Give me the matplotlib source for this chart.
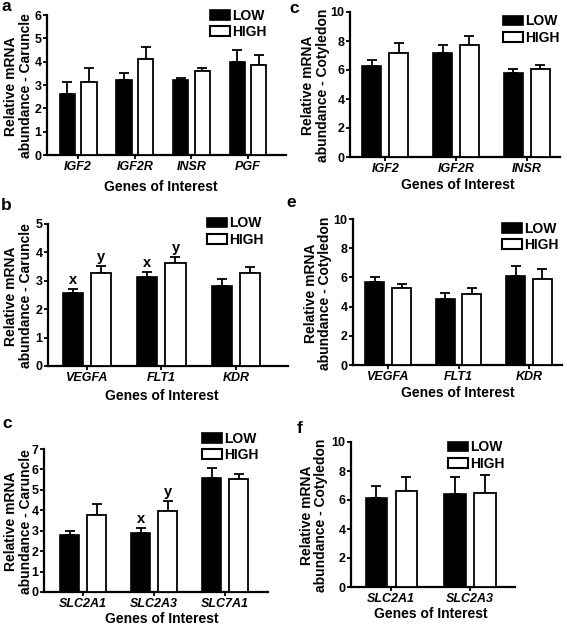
import matplotlib
matplotlib.use("Agg")
import matplotlib.pyplot as plt
import numpy as np
from matplotlib.patches import Patch

plt.rcParams['font.family'] = ['Liberation Sans', 'DejaVu Sans']
plt.rcParams['font.weight'] = 'bold'

# ---- data ----
a_genes = ["IGF2", "IGF2R", "INSR", "PGF"]
a_low = [2.6, 3.2, 3.2, 4.0]
a_low_err = [0.52, 0.3, 0.1, 0.5]
a_high = [3.12, 4.12, 3.6, 3.85]
a_high_err = [0.6, 0.5, 0.15, 0.42]

b_genes = ["VEGFA", "FLT1", "KDR"]
b_low = [2.57, 3.12, 2.8]
b_low_err = [0.13, 0.2, 0.25]
b_high = [3.27, 3.64, 3.28]
b_high_err = [0.24, 0.2, 0.2]
b_low_sig = ["x", "x", ""]
b_high_sig = ["y", "y", ""]

c_genes = ["SLC2A1", "SLC2A3", "SLC7A1"]
c_low = [2.78, 2.87, 5.6]
c_low_err = [0.2, 0.25, 0.45]
c_high = [3.78, 3.97, 5.52]
c_high_err = [0.55, 0.5, 0.28]
c_low_sig = ["", "x", ""]
c_high_sig = ["", "y", ""]

d_genes = ["IGF2", "IGF2R", "INSR"]
d_low = [6.3, 7.2, 5.8]
d_low_err = [0.38, 0.55, 0.3]
d_high = [7.15, 7.72, 6.1]
d_high_err = [0.7, 0.65, 0.25]

e_genes = ["VEGFA", "FLT1", "KDR"]
e_low = [5.7, 4.55, 6.1]
e_low_err = [0.3, 0.35, 0.65]
e_high = [5.27, 4.85, 5.9]
e_high_err = [0.25, 0.45, 0.67]

f_genes = ["SLC2A1", "SLC2A3"]
f_low = [6.15, 6.4]
f_low_err = [0.85, 1.2]
f_high = [6.65, 6.5]
f_high_err = [0.95, 1.2]

W, H = 567, 628
fig = plt.figure(figsize=(W / 100, H / 100), dpi=100)


def fx(px):
    return px / W


def fy(py):
    return 1 - py / H


def panel(box, genes, low, low_err, high, high_err, ymax, ystep, ylabel,
          xlim, ylab_x, xlab_xy, leg_xy, low_sig=None, high_sig=None):
    l, t, r, b = box
    ax = fig.add_axes([fx(l), fy(b), (r - l) / W, (b - t) / H])
    x = np.arange(len(genes))
    off, w = 0.19, 0.27
    ax.bar(x - off, low, w, color='black', edgecolor='black', linewidth=1.2, zorder=3)
    ax.bar(x + off, high, w, color='white', edgecolor='black', linewidth=1.3, zorder=3)
    ax.errorbar(x - off, low, yerr=[np.zeros(len(low)), low_err], fmt='none',
                ecolor='black', elinewidth=1.3, capsize=3.5, capthick=1.3, zorder=2)
    ax.errorbar(x + off, high, yerr=[np.zeros(len(high)), high_err], fmt='none',
                ecolor='black', elinewidth=1.3, capsize=3.5, capthick=1.3, zorder=2)
    for xs, vals, errs, sig in [(x - off, low, low_err, low_sig),
                                (x + off, high, high_err, high_sig)]:
        if sig:
            for xi, v, e, s in zip(xs, vals, errs, sig):
                if s:
                    ax.text(xi, v + e + ymax * 0.015, s, ha='center', va='bottom',
                            fontsize=10.5, fontweight='bold')
    ax.set_ylim(0, ymax)
    ax.set_yticks(np.arange(0, ymax + 0.01, ystep))
    ax.set_xlim(*xlim)
    ax.set_xticks(x)
    ax.set_xticklabels(genes, fontstyle='italic', fontweight='bold', fontsize=9)
    for lab in ax.get_yticklabels():
        lab.set_fontweight('bold')
        lab.set_fontsize(9)
    for s in ['top', 'right']:
        ax.spines[s].set_visible(False)
    for s in ['left', 'bottom']:
        ax.spines[s].set_linewidth(1.6)
    ax.tick_params(axis='both', direction='out', length=3, width=1.3, pad=1.0)
    # y label
    fig.text(fx(ylab_x), fy((t + b) / 2 + 1), ylabel, rotation=90, ha='center',
             va='center', multialignment='center', fontsize=10,
             fontweight='bold', linespacing=1.05)
    # x label
    fig.text(fx(xlab_xy[0]), fy(xlab_xy[1]), "Genes of Interest", ha='center',
             va='center', fontsize=10, fontweight='bold')
    handles = [Patch(facecolor='black', edgecolor='black', linewidth=1.2, label='LOW'),
               Patch(facecolor='white', edgecolor='black', linewidth=1.5, label='HIGH')]
    fig.legend(handles=handles, loc='center left',
               bbox_to_anchor=(fx(leg_xy[0]), fy(leg_xy[1])),
               bbox_transform=fig.transFigure,
               frameon=False, fontsize=10, handlelength=1.45, handleheight=0.7,
               handletextpad=0.15, labelspacing=0.15, borderaxespad=0.0,
               borderpad=0.0)
    return ax


car = "Relative mRNA\nabundance - Caruncle"
cot = "Relative mRNA\nabundance - Cotyledon"

panel((47, 15, 286, 155), a_genes, a_low, a_low_err, a_high, a_high_err, 6, 1,
      car, (-0.55, 3.67), 18.5, (161, 187), (210, 24))

panel((48, 224, 288, 366), b_genes, b_low, b_low_err, b_high, b_high_err, 5, 1,
      car, (-0.52, 2.7), 18.5, (162, 396), (207, 231.5), b_low_sig, b_high_sig)

panel((44, 449, 268, 592), c_genes, c_low, c_low_err, c_high, c_high_err, 7, 1,
      car, (-0.55, 2.6), 18.5, (162, 619), (202, 447), c_low_sig, c_high_sig)

panel((350, 12, 560, 157), d_genes, d_low, d_low_err, d_high, d_high_err, 10, 2,
      cot, (-0.5, 2.47), 315.5, (458, 185), (503, 29.5))

panel((353, 219, 562, 365), e_genes, e_low, e_low_err, e_high, e_high_err, 10, 2,
      cot, (-0.5, 2.47), 318, (458, 393), (502, 237))

panel((351, 442, 515, 587), f_genes, f_low, f_low_err, f_high, f_high_err, 10, 2,
      cot, (-0.51, 1.57), 314, (431, 614), (448, 455.5))

for lbl, px, py in [("a", 1, -1), ("b", 1, 198), ("c", 2, 416),
                    ("c", 289, 1), ("e", 286, 195), ("f", 297, 421)]:
    fig.text(fx(px), fy(py), lbl, fontsize=12.5, fontweight='bold',
             ha='left', va='top')

fig.savefig("out.png", dpi=100)
